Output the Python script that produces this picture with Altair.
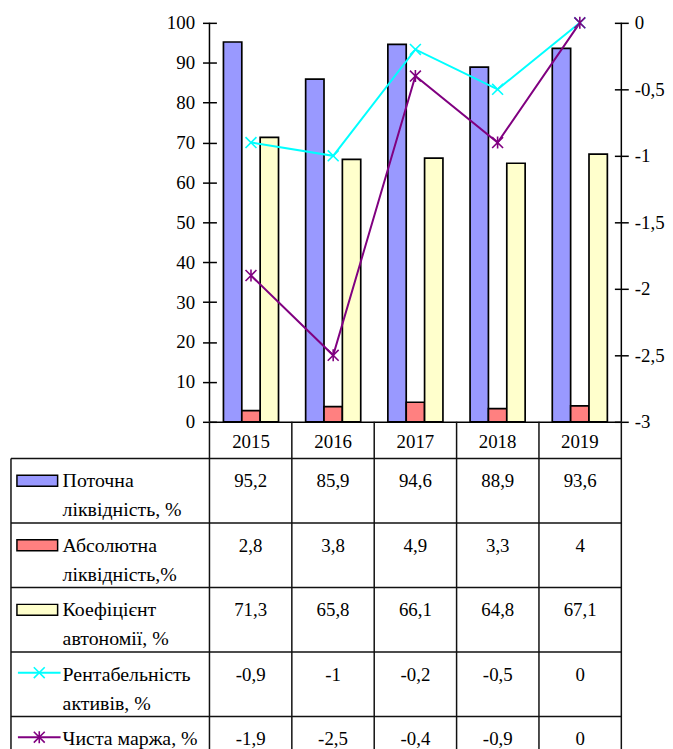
import altair as alt
import pandas as pd

years = ["2015", "2016", "2017", "2018", "2019"]
series_keys = ["cur", "abs", "aut", "roa", "nm"]
series_labels = [
    "Поточна\nліквідність, %",
    "Абсолютна\nліквідність,%",
    "Коефіцієнт\nавтономії, %",
    "Рентабельність\nактивів, %",
    "Чиста маржа, %",
]
current_liq = [95.2, 85.9, 94.6, 88.9, 93.6]
absolute_liq = [2.8, 3.8, 4.9, 3.3, 4]
autonomy = [71.3, 65.8, 66.1, 64.8, 67.1]
roa = [-0.9, -1, -0.2, -0.5, 0]
net_margin = [-1.9, -2.5, -0.4, -0.9, 0]
colors = ["#9999FF", "#FF8080", "#FFFFCC", "#00FFFF", "#800080"]
left_ticks = [0, 10, 20, 30, 40, 50, 60, 70, 80, 90, 100]
right_ticks = [-3, -2.5, -2, -1.5, -1, -0.5, 0]

bar_keys = series_keys[:3]
line_keys = series_keys[3:]

rows = []
for key, vals in zip(series_keys, [current_liq, absolute_liq, autonomy, roa, net_margin]):
    for yr, v in zip(years, vals):
        rows.append({"year": yr, "series": key, "value": v})
df = pd.DataFrame(rows)
leg = pd.DataFrame({"series": series_keys, "label": series_labels})
yrs = pd.DataFrame({"year": years})

FONT = "'Liberation Serif', 'Times New Roman', Times, 'DejaVu Serif', serif"
FS = 19
W, H = 415, 402
TH = 325

X_PATH = "M-1,-1L1,1M-1,1L1,-1"
STAR_PATH = "M-1,-1L1,1M-1,1L1,-1M0,-1.1L0,1.1"
RECT_PATH = "M-1,-0.27L1,-0.27L1,0.27L-1,0.27Z"

color_scale = alt.Scale(domain=series_keys, range=colors)
shape_scale = alt.Scale(domain=line_keys, range=[X_PATH, STAR_PATH])

xscale = alt.Scale(domain=years, paddingInner=0.33, paddingOuter=0.17)
x_axis = alt.Axis(title=None, ticks=False, tickSize=0, labelPadding=11, labelAngle=0,
                  domain=True, domainColor="black", domainWidth=1.5, grid=False)
x_enc = alt.X("year:N", scale=xscale, axis=x_axis)

base = alt.Chart(df)

bars = base.transform_filter(
    alt.FieldOneOfPredicate(field="series", oneOf=bar_keys)
).mark_bar(stroke="black", strokeWidth=1.7).encode(
    x=x_enc,
    xOffset=alt.XOffset("series:N", scale=alt.Scale(domain=bar_keys)),
    y=alt.Y("value:Q", scale=alt.Scale(domain=[0, 100]),
            axis=alt.Axis(title=None, values=left_ticks, offset=-7, tickSize=14,
                          domain=False, grid=False, labelPadding=8,
                          tickColor="black", tickWidth=1.5)),
    color=alt.Color("series:N", scale=color_scale, legend=None),
)

yR = alt.Y("value:Q", scale=alt.Scale(domain=[-3, 0]),
           axis=alt.Axis(title=None, orient="right", values=right_ticks, offset=-7,
                         tickSize=14, domain=False, grid=False, labelPadding=6,
                         tickColor="black", tickWidth=1.5,
                         labelExpr="replace(toString(datum.value), '.', ',')"))

lbase = base.transform_filter(alt.FieldOneOfPredicate(field="series", oneOf=line_keys))
lines = lbase.mark_line(strokeWidth=2).encode(
    x=x_enc, y=yR,
    color=alt.Color("series:N", scale=color_scale, legend=None),
    detail="series:N",
)
pts = lbase.mark_point(filled=False, size=121, strokeWidth=1.6, opacity=1).encode(
    x=x_enc, y=yR,
    color=alt.Color("series:N", scale=color_scale, legend=None),
    shape=alt.Shape("series:N", scale=shape_scale, legend=None),
)

one = pd.DataFrame({"a": [0]})
rule_l = alt.Chart(one).mark_rule(color="black", strokeWidth=1.5).encode(
    x=alt.value(0), y=alt.value(0), y2=alt.value(H))
rule_r = alt.Chart(one).mark_rule(color="black", strokeWidth=1.5).encode(
    x=alt.value(W), y=alt.value(0), y2=alt.value(H))

top = alt.layer(bars, rule_l, rule_r, alt.layer(lines, pts)).resolve_scale(
    y="independent").properties(width=W, height=H)

# ---- data table ----
row_scale = alt.Scale(domain=series_keys, paddingInner=0, paddingOuter=0)
col_scale = alt.Scale(domain=years, paddingInner=0, paddingOuter=0)
LC = "#111111"

vlines = alt.Chart(yrs).mark_rule(color=LC, strokeWidth=1.5).encode(
    x=alt.X("year:N", scale=col_scale, axis=None, bandPosition=0),
    y=alt.value(-37), y2=alt.value(TH))
vline_r = alt.Chart(one).mark_rule(color=LC, strokeWidth=1.5).encode(
    x=alt.value(W), y=alt.value(-37), y2=alt.value(TH))
vline_l = alt.Chart(one).mark_rule(color=LC, strokeWidth=1.5).encode(
    x=alt.value(-200), y=alt.value(0), y2=alt.value(TH))
hlines = alt.Chart(leg).mark_rule(color=LC, strokeWidth=1.5).encode(
    y=alt.Y("series:N", scale=row_scale, axis=None, bandPosition=0),
    x=alt.value(-200), x2=alt.value(W))
hline_b = alt.Chart(one).mark_rule(color=LC, strokeWidth=1.5).encode(
    y=alt.value(TH), x=alt.value(-200), x2=alt.value(W))

vals = alt.Chart(df).transform_calculate(
    txt="replace(toString(datum.value), '.', ',')"
).mark_text(font=FONT, fontSize=FS, baseline="alphabetic", align="center", color="black").encode(
    x=alt.X("year:N", scale=col_scale, axis=None),
    y=alt.Y("series:N", scale=row_scale, axis=None, bandPosition=0.446),
    text="txt:N",
)

leg_text = alt.Chart(leg).mark_text(font=FONT, fontSize=20, baseline="alphabetic", align="left",
                                    lineBreak="\n", lineHeight=29, color="black").encode(
    x=alt.value(-148),
    y=alt.Y("series:N", scale=row_scale, axis=None, bandPosition=0.446),
    text="label:N",
)

leg_rect = alt.Chart(leg).transform_filter(
    alt.FieldOneOfPredicate(field="series", oneOf=bar_keys)
).mark_point(shape=RECT_PATH, size=1681, filled=True, stroke="black", strokeWidth=1.5, opacity=1).encode(
    x=alt.value(-173.5),
    y=alt.Y("series:N", scale=row_scale, axis=None, bandPosition=0.346),
    fill=alt.Color("series:N", scale=color_scale, legend=None),
)

leg_line = alt.Chart(leg).transform_filter(
    alt.FieldOneOfPredicate(field="series", oneOf=line_keys)
).mark_rule(strokeWidth=2).encode(
    x=alt.value(-193), x2=alt.value(-150),
    y=alt.Y("series:N", scale=row_scale, axis=None, bandPosition=0.32),
    color=alt.Color("series:N", scale=color_scale, legend=None),
)
leg_pt = alt.Chart(leg).transform_filter(
    alt.FieldOneOfPredicate(field="series", oneOf=line_keys)
).mark_point(filled=False, size=121, strokeWidth=1.6, opacity=1).encode(
    x=alt.value(-171.5),
    y=alt.Y("series:N", scale=row_scale, axis=None, bandPosition=0.32),
    color=alt.Color("series:N", scale=color_scale, legend=None),
    shape=alt.Shape("series:N", scale=shape_scale, legend=None),
)

table = alt.layer(vlines, vline_r, vline_l, hlines, hline_b, vals, leg_text,
                  leg_rect, leg_line, leg_pt).properties(width=W, height=TH)

chart = alt.vconcat(top, table, spacing=37, bounds="flush").properties(
    padding={"left": 2, "top": 2, "right": 0, "bottom": 0}
).configure_view(stroke=None).configure_axis(
    labelFont=FONT, labelFontSize=FS, labelColor="black"
)

chart.save("out.html", embed_options={"renderer": "svg", "actions": False})
